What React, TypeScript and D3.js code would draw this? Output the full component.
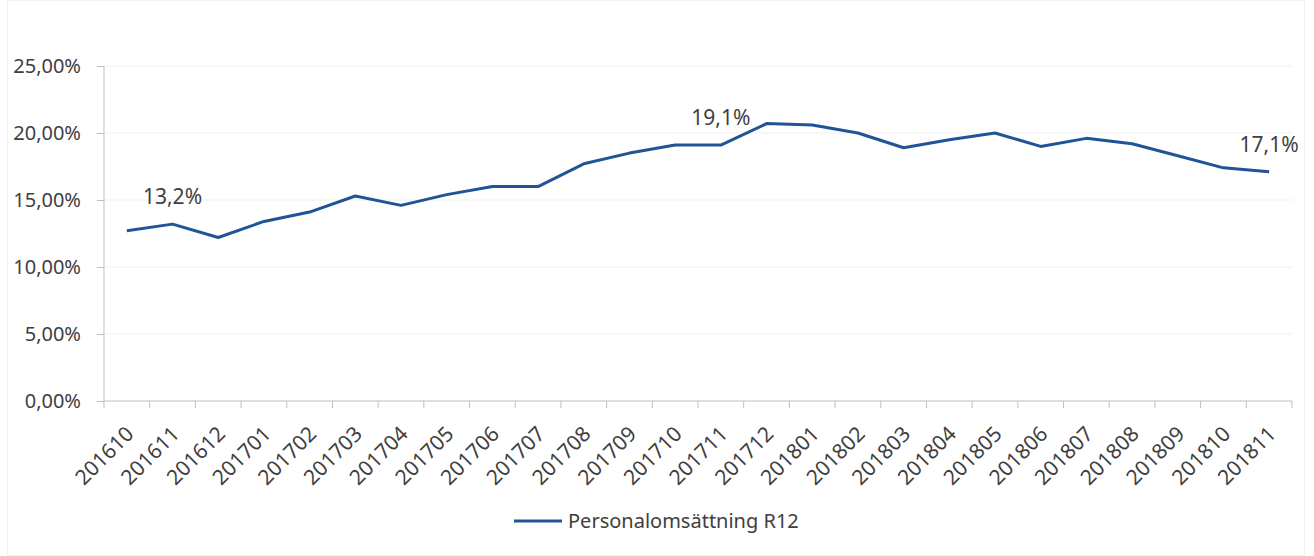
import React, { useEffect, useRef } from "react";
import * as d3 from "d3";

const categories = [
  "201610", "201611", "201612", "201701", "201702", "201703", "201704", "201705", "201706",
  "201707", "201708", "201709", "201710", "201711", "201712", "201801", "201802", "201803",
  "201804", "201805", "201806", "201807", "201808", "201809", "201810", "201811",
];
const values = [
  12.7, 13.2, 12.2, 13.4, 14.1, 15.3, 14.6, 15.4, 16.0,
  16.0, 17.7, 18.5, 19.1, 19.1, 20.7, 20.6, 20.0, 18.9,
  19.5, 20.0, 19.0, 19.6, 19.2, 18.3, 17.4, 17.1,
];
const yTicks = [0, 5, 10, 15, 20, 25];
const labelledPoints = [
  { category: "201611", text: "13,2%" },
  { category: "201711", text: "19,1%" },
  { category: "201811", text: "17,1%" },
];
const seriesName = "Personalomsättning R12";

const W = 1314;
const H = 556;
const FONT = "'Noto Sans', sans-serif";
const TEXT = "#404040";
const AXIS = "#bfbfbf";
const GRID = "#efefef";
const LINE = "#1f5496";

export default function App() {
  const ref = useRef<SVGSVGElement>(null);
  useEffect(() => {
    const svg = d3.select(ref.current);
    svg.selectAll("*").remove();

    const left = 104, right = 1292, top = 66, bottom = 401;
    const x = d3.scaleBand<string>().domain(categories).range([left, right]).padding(0);
    const y = d3.scaleLinear().domain([0, 25]).range([bottom, top]);
    const cx = (c: string) => (x(c) as number) + x.bandwidth() / 2;

    // frame
    svg.append("rect").attr("x", 7.5).attr("y", 0.5).attr("width", 1297).attr("height", 555)
      .attr("fill", "white").attr("stroke", "#f2f2f2");

    // gridlines
    svg.append("g").selectAll("line").data(yTicks.filter(t => t > 0)).join("line")
      .attr("x1", left).attr("x2", right)
      .attr("y1", d => y(d)).attr("y2", d => y(d))
      .attr("stroke", GRID).attr("stroke-width", 1);

    // y axis
    const ya = svg.append("g").attr("transform", `translate(${left},0)`)
      .call(d3.axisLeft(y).tickValues(yTicks).tickSize(7).tickPadding(16)
        .tickFormat(d => (d as number).toFixed(2).replace(".", ",") + "%"));
    ya.select(".domain").attr("stroke", AXIS).attr("d", `M0,${top}V${bottom}`);
    ya.selectAll(".tick line").attr("stroke", AXIS);
    ya.selectAll(".tick text").attr("fill", TEXT).attr("font-family", FONT).attr("font-size", 20);

    // x axis
    const xa = svg.append("g").attr("transform", `translate(0,${bottom})`);
    xa.append("line").attr("x1", left).attr("x2", right).attr("y1", 0).attr("y2", 0).attr("stroke", AXIS);
    const bounds = categories.map(c => x(c) as number).concat([right]);
    xa.selectAll("line.tk").data(bounds).join("line").attr("class", "tk")
      .attr("x1", d => d).attr("x2", d => d).attr("y1", 0).attr("y2", 7).attr("stroke", AXIS);
    xa.selectAll("text").data(categories).join("text")
      .attr("transform", d => `translate(${cx(d) + 3},${29}) rotate(-45)`)
      .attr("text-anchor", "end").attr("dy", "0.35em")
      .attr("fill", TEXT).attr("font-family", FONT).attr("font-size", 21)
      .text(d => d);

    // line
    const line = d3.line<number>().x((_, i) => cx(categories[i])).y(d => y(d));
    svg.append("path").datum(values).attr("d", line).attr("fill", "none")
      .attr("stroke", LINE).attr("stroke-width", 3).attr("stroke-linejoin", "round");

    // data labels
    svg.append("g").selectAll("text").data(labelledPoints).join("text")
      .attr("x", d => cx(d.category))
      .attr("y", d => y(values[categories.indexOf(d.category)]) - 20)
      .attr("text-anchor", "middle").attr("fill", TEXT).attr("font-family", FONT).attr("font-size", 21)
      .text(d => d.text);

    // legend
    const lg = svg.append("g").attr("transform", "translate(514,521)");
    lg.append("line").attr("x1", 0).attr("x2", 48).attr("y1", 0).attr("y2", 0)
      .attr("stroke", LINE).attr("stroke-width", 3);
    lg.append("text").attr("x", 54).attr("y", 0).attr("dy", "0.35em")
      .attr("fill", TEXT).attr("font-family", FONT).attr("font-size", 20).text(seriesName);
  }, []);
  return (
    <svg ref={ref} width={W} height={H} style={{ position: "absolute", left: 0, top: 0, background: "white" }} />
  );
}
